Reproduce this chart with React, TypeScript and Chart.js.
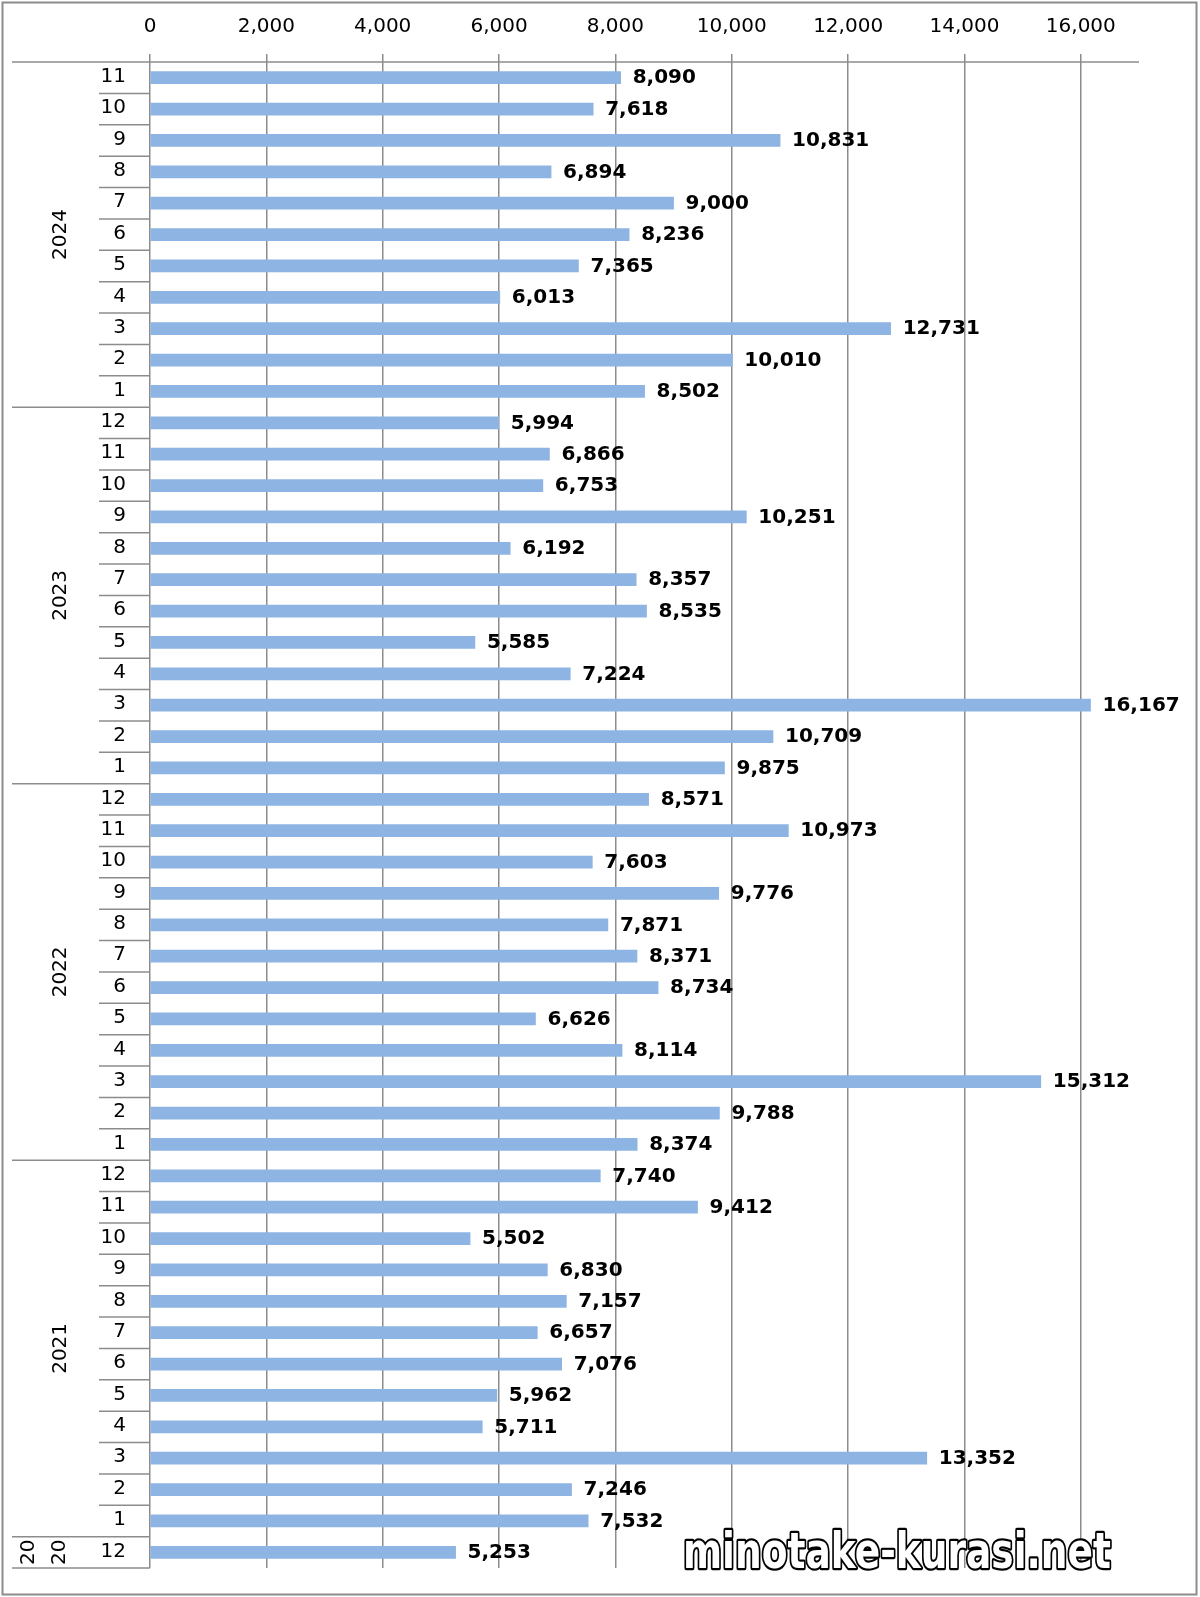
import React, { useEffect, useRef } from 'react';
import { Chart, registerables } from 'chart.js';

Chart.register(...registerables);

const yearLabels = ['2024', '2023', '2022', '2021', '2020'];
const months2024 = ['11', '10', '9', '8', '7', '6', '5', '4', '3', '2', '1'];
const values2024 = [8090, 7618, 10831, 6894, 9000, 8236, 7365, 6013, 12731, 10010, 8502];
const months2023 = ['12', '11', '10', '9', '8', '7', '6', '5', '4', '3', '2', '1'];
const values2023 = [5994, 6866, 6753, 10251, 6192, 8357, 8535, 5585, 7224, 16167, 10709, 9875];
const months2022 = ['12', '11', '10', '9', '8', '7', '6', '5', '4', '3', '2', '1'];
const values2022 = [8571, 10973, 7603, 9776, 7871, 8371, 8734, 6626, 8114, 15312, 9788, 8374];
const months2021 = ['12', '11', '10', '9', '8', '7', '6', '5', '4', '3', '2', '1'];
const values2021 = [7740, 9412, 5502, 6830, 7157, 6657, 7076, 5962, 5711, 13352, 7246, 7532];
const months2020 = ['12'];
const values2020 = [5253];
const xTickValues = [0, 2000, 4000, 6000, 8000, 10000, 12000, 14000, 16000];
const watermark = 'minotake-kurasi.net';

const groups = [
  { year: yearLabels[0], months: months2024, values: values2024 },
  { year: yearLabels[1], months: months2023, values: values2023 },
  { year: yearLabels[2], months: months2022, values: values2022 },
  { year: yearLabels[3], months: months2021, values: values2021 },
  { year: yearLabels[4], months: months2020, values: values2020 },
];

const monthLabels: string[] = [];
const allValues: number[] = [];
const yearOfRow: number[] = [];
groups.forEach((g, gi) => {
  g.months.forEach((m, i) => {
    monthLabels.push(m);
    allValues.push(g.values[i]);
    yearOfRow.push(gi);
  });
});

const GRID = '#8c8c8c';
const FONT = '"DejaVu Sans", Verdana, sans-serif';

const overlayPlugin = {
  id: 'overlay',
  beforeDraw(chart: any) {
    const ctx = chart.ctx;
    ctx.save();
    ctx.fillStyle = '#ffffff';
    ctx.fillRect(0, 0, chart.width, chart.height);
    ctx.restore();
  },
  afterDraw(chart: any) {
    const ctx = chart.ctx;
    const xs = chart.scales.x;
    const ys = chart.scales.y;
    const area = chart.chartArea;
    const n = monthLabels.length;
    const step = ys.getPixelForValue(1) - ys.getPixelForValue(0);
    const x0 = xs.getPixelForValue(0);
    ctx.save();

    // lines
    ctx.strokeStyle = GRID;
    ctx.lineWidth = 1.5;
    const line = (a: number, b: number, c: number, d: number) => {
      ctx.beginPath();
      ctx.moveTo(a, b);
      ctx.lineTo(c, d);
      ctx.stroke();
    };
    line(12, area.top, area.right, area.top);
    for (let i = 0; i < n; i++) {
      const yb = ys.getPixelForValue(i) + step / 2;
      const full = i === n - 1 || yearOfRow[i] !== yearOfRow[i + 1];
      line(full ? 12 : 99, yb, x0, yb);
    }

    // month labels
    ctx.fillStyle = '#000';
    ctx.font = `20px ${FONT}`;
    ctx.textAlign = 'right';
    ctx.textBaseline = 'middle';
    for (let i = 0; i < n; i++) {
      ctx.fillText(monthLabels[i], 126, ys.getPixelForValue(i) - 1);
    }

    // year labels
    let start = 0;
    groups.forEach((g) => {
      const end = start + g.months.length - 1;
      const yc = (ys.getPixelForValue(start) + ys.getPixelForValue(end)) / 2;
      ctx.textAlign = 'center';
      if (g.months.length > 1) {
        ctx.save();
        ctx.translate(61, yc);
        ctx.rotate(-Math.PI / 2);
        ctx.fillText(g.year, 0, 0);
        ctx.restore();
      } else {
        const parts = [g.year.slice(0, 2), g.year.slice(2)];
        [29, 60].forEach((px, k) => {
          ctx.save();
          ctx.translate(px, yc);
          ctx.rotate(-Math.PI / 2);
          ctx.fillText(parts[k], 0, 0);
          ctx.restore();
        });
      }
      start = end + 1;
    });

    // data labels
    ctx.font = `bold 20px ${FONT}`;
    ctx.textAlign = 'left';
    for (let i = 0; i < n; i++) {
      const v = allValues[i];
      ctx.fillText(v.toLocaleString('en-US'), xs.getPixelForValue(v) + 12, ys.getPixelForValue(i) + 0.5);
    }

    // watermark
    ctx.save();
    ctx.font = `bold 50px ${FONT}`;
    const w = ctx.measureText(watermark).width;
    const sx = 428 / w;
    ctx.translate(683, 1568);
    ctx.scale(sx, 1);
    ctx.textAlign = 'left';
    ctx.textBaseline = 'alphabetic';
    ctx.lineJoin = 'round';
    ctx.strokeStyle = '#000';
    ctx.lineWidth = 4.5;
    ctx.strokeText(watermark, 0, 0);
    ctx.fillStyle = '#fff';
    ctx.fillText(watermark, 0, 0);
    ctx.restore();

    // outer border
    ctx.strokeStyle = GRID;
    ctx.lineWidth = 2;
    ctx.strokeRect(2.5, 2.5, 1194, 1592);

    ctx.restore();
  },
};

export default function App() {
  const ref = useRef<HTMLCanvasElement | null>(null);
  useEffect(() => {
    document.body.style.margin = '0';
    if (!ref.current) return;
    const chart = new Chart(ref.current, {
      type: 'bar',
      data: {
        labels: monthLabels,
        datasets: [
          {
            data: allValues,
            backgroundColor: '#8db4e2',
            borderWidth: 0,
            barThickness: 12,
          },
        ],
      },
      options: {
        indexAxis: 'y',
        animation: false,
        responsive: false,
        maintainAspectRatio: false,
        layout: { padding: { left: 150, right: 61, top: 0, bottom: 29 } },
        plugins: { legend: { display: false }, tooltip: { enabled: false } },
        scales: {
          x: {
            position: 'top',
            min: 0,
            max: 17000,
            afterBuildTicks: (scale: any) => {
              scale.ticks = xTickValues.map((v) => ({ value: v }));
            },
            afterFit: (scale: any) => {
              scale.height = 62;
            },
            grid: { color: GRID, lineWidth: 1.5, tickLength: 8, drawTicks: true },
            border: { display: false },
            ticks: {
              color: '#000',
              font: { family: FONT, size: 20 },
              padding: 15,
              maxRotation: 0,
              autoSkip: false,
              callback: (v: any) => Number(v).toLocaleString('en-US'),
            },
          },
          y: {
            display: false,
            offset: true,
          },
        },
      } as any,
      plugins: [overlayPlugin],
    });
    return () => chart.destroy();
  }, []);
  return (
    <div style={{ width: 1200, height: 1597 }}>
      <canvas ref={ref} width={1200} height={1597} style={{ display: 'block' }} />
    </div>
  );
}
